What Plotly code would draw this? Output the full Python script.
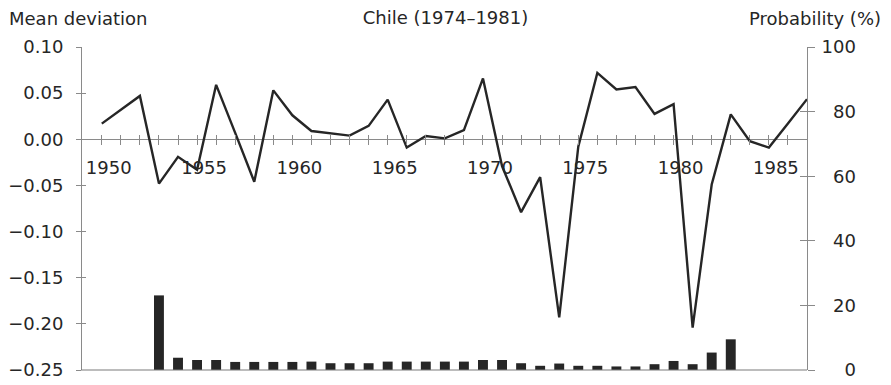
import plotly.graph_objects as go

# Mean deviation per year (left axis)
years = list(range(1950, 1988))
mean_dev = [
    0.017, 0.032, 0.047, -0.048, -0.019, -0.033, 0.059, 0.007, -0.046, 0.053,
    0.026, 0.009, 0.0065, 0.004, 0.0145, 0.043, -0.009, 0.0036, 0.001, 0.010,
    0.066, -0.029, -0.079, -0.041, -0.193, -0.008, 0.072, 0.054, 0.0565, 0.0275,
    0.038, -0.204, -0.049, 0.027, -0.002, -0.009, 0.017, 0.0435,
]

# Probability (%) per year (right axis)
bar_years = list(range(1953, 1984))
probability = [
    23.1, 3.8, 3.1, 3.1, 2.5, 2.5, 2.5, 2.5, 2.6, 2.1,
    2.1, 2.1, 2.6, 2.6, 2.6, 2.6, 2.6, 3.1, 3.1, 2.1,
    1.3, 2.0, 1.3, 1.3, 1.1, 1.1, 1.8, 2.8, 1.8, 5.4,
    9.5,
]

x_tick_years = list(range(1950, 1987))
x_tick_text = [str(y) if y % 5 == 0 else "" for y in x_tick_years]
left_ticks = [-0.25, -0.20, -0.15, -0.10, -0.05, 0.00, 0.05, 0.10]
right_ticks = [0, 20, 40, 60, 80, 100]
FIG_SPACE = "\u2007"
right_tick_text = [f"{v:>3}".replace(" ", FIG_SPACE) for v in right_ticks]

X_RANGE = [1948.91, 1987.0]
LEFT_RANGE = [-0.25, 0.10]
RIGHT_RANGE = [0, 100]
zero_pos = (0 - LEFT_RANGE[0]) / (LEFT_RANGE[1] - LEFT_RANGE[0])

ink = "#262626"
axis_grey = "#8a8a8a"
FONT = "DejaVu Sans"
FS = 18

W, H = 891, 385
M_L, M_R, M_T, M_B = 81, 84, 47, 15

fig = go.Figure()
fig.add_trace(go.Scatter(
    x=years, y=mean_dev, mode="lines",
    line=dict(color=ink, width=2.4),
    xaxis="x", yaxis="y",
))
fig.add_trace(go.Bar(
    x=bar_years, y=probability, width=0.52,
    marker=dict(color=ink, line=dict(width=0)),
    xaxis="x2", yaxis="y2",
))
# empty traces that only carry the upward / inward halves of the crossing ticks
for xa, ya in (("x3", "y"), ("x", "y3"), ("x", "y4")):
    fig.add_trace(go.Scatter(x=[], y=[], mode="lines", xaxis=xa, yaxis=ya,
                             hoverinfo="skip"))

common = dict(showgrid=False, zeroline=False, automargin=False)

fig.update_layout(
    width=W, height=H, autosize=False,
    margin=dict(l=M_L, r=M_R, t=M_T, b=M_B, pad=0),
    paper_bgcolor="white", plot_bgcolor="white",
    showlegend=False,
    font=dict(family=FONT, size=FS, color=ink),
    title=dict(text="Chile (1974\u20131981)", x=0.5, xanchor="center",
               y=1 - 18 / H, yanchor="middle", yref="container",
               font=dict(family=FONT, size=FS, color=ink)),
    xaxis=dict(range=X_RANGE, anchor="y", side="bottom",
               ticks="", showticklabels=False, showline=False, **common),
    # year ticks and labels on the zero line
    xaxis2=dict(range=X_RANGE, overlaying="x", anchor="free", position=zero_pos,
                tickvals=x_tick_years, ticktext=x_tick_text,
                ticks="outside", ticklen=5, tickwidth=1, tickcolor=axis_grey,
                showline=False, tickfont=dict(size=FS, color=ink),
                ticklabelshift=7, ticklabelstandoff=7, **common),
    xaxis3=dict(range=X_RANGE, overlaying="x", anchor="free", position=zero_pos,
                tickvals=x_tick_years, ticks="inside", ticklen=4, tickwidth=1,
                tickcolor=axis_grey, showticklabels=False, showline=False, **common),
    yaxis=dict(range=LEFT_RANGE, anchor="free", position=0, side="left",
               tickvals=left_ticks, tickformat=".2f",
               ticks="outside", ticklen=5, tickwidth=1, tickcolor=axis_grey,
               showline=True, linecolor=axis_grey, linewidth=1,
               ticklabelstandoff=9, tickfont=dict(size=FS, color=ink),
               showgrid=False, automargin=False,
               zeroline=True, zerolinecolor=axis_grey, zerolinewidth=1),
    yaxis3=dict(range=LEFT_RANGE, overlaying="y", anchor="free", position=0, side="left",
                tickvals=left_ticks, ticks="inside", ticklen=4, tickwidth=1,
                tickcolor=axis_grey, showticklabels=False, showline=False, **common),
    yaxis2=dict(range=RIGHT_RANGE, overlaying="y", anchor="free", position=1, side="right",
                tickvals=right_ticks, ticktext=right_tick_text,
                ticks="outside", ticklen=7, tickwidth=1, tickcolor=axis_grey,
                showline=True, linecolor=axis_grey, linewidth=1,
                ticklabelstandoff=3, tickfont=dict(size=FS, color=ink), **common),
    yaxis4=dict(range=RIGHT_RANGE, overlaying="y", anchor="free", position=1, side="right",
                tickvals=right_ticks, ticks="inside", ticklen=7, tickwidth=1,
                tickcolor=axis_grey, showticklabels=False, showline=False, **common),
)

# frame line along the bottom edge of the plotting area
fig.add_shape(type="line", xref="paper", yref="paper", x0=0, x1=1, y0=0, y1=0,
              line=dict(color="#7a7a7a", width=1.2), layer="above")

plot_w = W - M_L - M_R
plot_h = H - M_T - M_B
fig.add_annotation(text="Mean deviation", xref="paper", yref="paper",
                   x=(7 - M_L) / plot_w, y=1 + (M_T - 18) / plot_h,
                   xanchor="left", yanchor="middle", showarrow=False,
                   font=dict(family=FONT, size=FS, color=ink))
fig.add_annotation(text="Probability (%)", xref="paper", yref="paper",
                   x=(883 - M_L) / plot_w, y=1 + (M_T - 19) / plot_h,
                   xanchor="right", yanchor="middle", showarrow=False,
                   font=dict(family=FONT, size=FS, color=ink))

fig.write_html("out.html")
